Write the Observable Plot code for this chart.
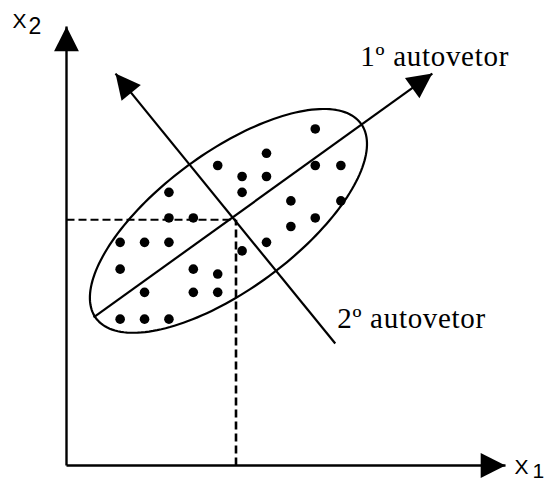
<!DOCTYPE html>
<html>
<head>
<meta charset="utf-8">
<script src="https://cdn.jsdelivr.net/npm/d3@7"></script>
<script src="https://cdn.jsdelivr.net/npm/@observablehq/plot@0.6"></script>
<style>
  html, body { margin: 0; padding: 0; background: #fff; }
  g[font-family^="Liberation Serif"] text { letter-spacing: 0.7px; }
</style>
</head>
<body>
<div id="chart"></div>
<script>
// ---- data (abstract units; both axes share the same unit length) ----
const axisMax = 18;                       // length of the X1 and X2 axes
const dotX = [10.2, 8.2, 6.2, 10.2, 11.25, 7.2, 8.2, 7.2, 4.2, 9.2, 11.25, 4.2, 5.2, 10.2, 9.2,
              2.2, 3.2, 4.2, 8.2, 7.2, 2.2, 5.2, 6.2, 3.2, 5.2, 6.2, 2.2, 3.2, 4.2];
const dotY = [13.8, 12.8, 12.3, 12.3, 12.3, 11.85, 11.85, 11.2, 11.2, 10.85, 10.85, 10.15, 10.15, 10.15, 9.8,
              9.15, 9.15, 9.15, 9.15, 8.8, 8.05, 8.05, 7.85, 7.1, 7.1, 7.1, 6.0, 6.0, 6.0];
const meanPoint = [6.95, 10.08];          // where the dashed guides meet
const eigenFrom = [[1.11, 6.07], [11.02, 5.0]];
const eigenTo   = [[15.0, 16.07], [2.01, 16.07]];
const eigenLabels = ["1º autovetor", "2º autovetor"];
const ellipseCenter = [6.64, 10.03];
const ellipseSemiAxes = [6.74, 2.81];
const ellipseAngleDeg = 36.3;
const axisLabels = [["X", "2"], ["X", "1"]];

// ---- derived tables ----
const dots = dotX.map((x, i) => ({x, y: dotY[i]}));
const axes = [
  {x1: 0, y1: 0, x2: 0, y2: axisMax},
  {x1: 0, y1: 0, x2: axisMax, y2: 0}
];
const guideH = [{x1: 0, y1: meanPoint[1], x2: meanPoint[0], y2: meanPoint[1]}];
const guideV = [{x1: meanPoint[0], y1: 0, x2: meanPoint[0], y2: meanPoint[1]}];
const eigen = eigenFrom.map((f, i) => ({x1: f[0], y1: f[1], x2: eigenTo[i][0], y2: eigenTo[i][1]}));
const angleOf = (dx, dy) => 90 - Math.atan2(dy, dx) * 180 / Math.PI;
const heads = [
  ...axes.map(a => ({x: a.x2, y: a.y2, rot: angleOf(a.x2 - a.x1, a.y2 - a.y1)})),
  ...eigen.map(e => ({x: e.x2, y: e.y2, rot: angleOf(e.x2 - e.x1, e.y2 - e.y1)}))
];
const th = ellipseAngleDeg * Math.PI / 180;
const ellipse = d3.range(0, 181).map(k => {
  const t = (k / 180) * 2 * Math.PI;
  const u = ellipseSemiAxes[0] * Math.cos(t), v = ellipseSemiAxes[1] * Math.sin(t);
  return {x: ellipseCenter[0] + u * Math.cos(th) - v * Math.sin(th),
          y: ellipseCenter[1] + u * Math.sin(th) + v * Math.cos(th)};
});

// filled arrowhead symbol, tip at the origin, pointing up
const arrowHead = {
  draw(ctx, size) {
    const s = Math.sqrt(size);
    ctx.moveTo(0, 0);
    ctx.lineTo(-s * 0.5, s);
    ctx.lineTo(s * 0.5, s);
    ctx.closePath();
  }
};

const sans = "Liberation Sans, Arial, sans-serif";
const serif = "Liberation Serif, Times New Roman, serif";

const chart = Plot.plot({
  width: 547,
  height: 480,
  marginLeft: 66,
  marginRight: 42,
  marginTop: 26,
  marginBottom: 15,
  x: {domain: [0, axisMax], axis: null},
  y: {domain: [0, axisMax], axis: null},
  style: {background: "#fff", overflow: "visible"},
  marks: [
    Plot.link(guideH, {x1: "x1", y1: "y1", x2: "x2", y2: "y2", stroke: "#000", strokeWidth: 2, strokeDasharray: "8,4"}),
    Plot.link(guideV, {x1: "x1", y1: "y1", x2: "x2", y2: "y2", stroke: "#000", strokeWidth: 2.6, strokeDasharray: "8,4"}),
    Plot.line(ellipse, {x: "x", y: "y", stroke: "#000", strokeWidth: 2.2}),
    Plot.link(eigen, {x1: "x1", y1: "y1", x2: "x2", y2: "y2", stroke: "#000", strokeWidth: 2.2}),
    Plot.link(axes, {x1: "x1", y1: "y1", x2: "x2", y2: "y2", stroke: "#000", strokeWidth: 2.4}),
    Plot.dot(heads, {x: "x", y: "y", rotate: "rot", symbol: arrowHead, r: 14, fill: "#000", stroke: "none"}),
    Plot.dot(dots, {x: "x", y: "y", r: 4.8, fill: "#000", stroke: "none"}),
    // axis labels
    Plot.text([{x: 0, y: axisMax}], {x: "x", y: "y", text: () => axisLabels[0][0], textAnchor: "start", lineAnchor: "bottom", dx: -54, dy: 1, fontSize: 21, fontFamily: sans, fill: "#000"}),
    Plot.text([{x: 0, y: axisMax}], {x: "x", y: "y", text: () => axisLabels[0][1], textAnchor: "start", lineAnchor: "bottom", dx: -38, dy: 7, fontSize: 23, fontFamily: sans, fill: "#000"}),
    Plot.text([{x: axisMax, y: 0}], {x: "x", y: "y", text: () => axisLabels[1][0], textAnchor: "start", lineAnchor: "bottom", dx: 9, dy: 8, fontSize: 21, fontFamily: sans, fill: "#000"}),
    Plot.text([{x: axisMax, y: 0}], {x: "x", y: "y", text: () => axisLabels[1][1], textAnchor: "start", lineAnchor: "bottom", dx: 27, dy: 12, fontSize: 21, fontFamily: sans, fill: "#000"}),
    // eigenvector labels
    Plot.text([eigen[0]], {x: "x2", y: "y2", text: () => eigenLabels[0], textAnchor: "start", lineAnchor: "bottom", dx: -72, dy: -8, fontSize: 29, fontFamily: serif, fill: "#000"}),
    Plot.text([eigen[1]], {x: "x1", y: "y1", text: () => eigenLabels[1], textAnchor: "start", lineAnchor: "bottom", dx: 2, dy: -16, fontSize: 29, fontFamily: serif, fill: "#000"})
  ]
});
document.getElementById("chart").appendChild(chart);
</script>
</body>
</html>
